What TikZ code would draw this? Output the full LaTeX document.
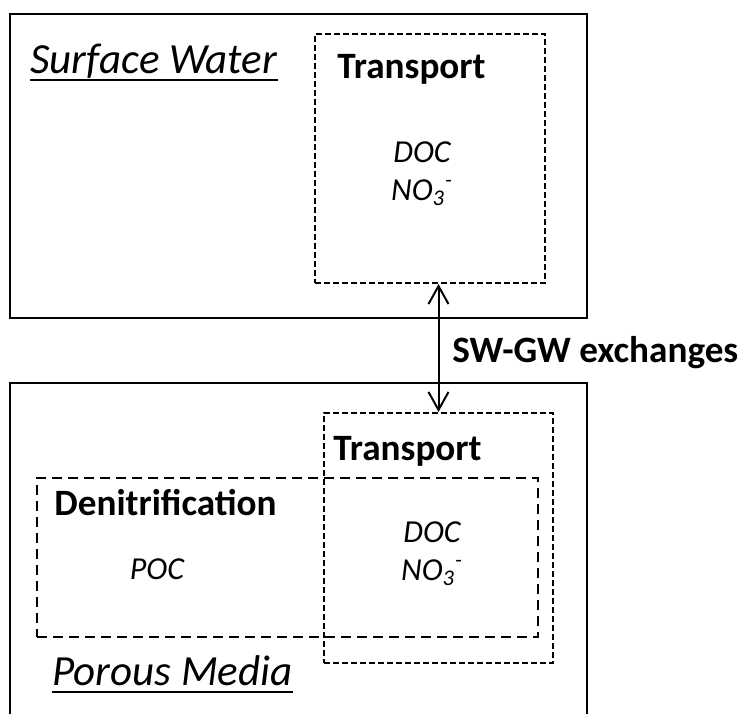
\documentclass[tikz,border=0pt]{standalone}
\usepackage{fontspec}
\setmainfont{Carlito}
\usetikzlibrary{arrows.meta}

\begin{document}
\begin{tikzpicture}[
    x=0.5pt, y=-0.5pt,
    >={Straight Barb[length=9pt,width=10pt]},
    zone/.style={draw=black, line width=1.25pt, inner sep=0pt},
    process/.style={draw=black, line width=1pt, dash pattern=on 3pt off 1.5pt, inner sep=0pt},
    heading/.style={font=\fontsize{18.6}{22}\selectfont\bfseries, inner sep=0pt},
    compartment/.style={font=\fontsize{21.5}{25}\selectfont\itshape, inner sep=0pt},
    species/.style={font=\fontsize{16}{19}\selectfont\itshape, inner sep=0pt}
]
\clip (0,0) rectangle (742,713);

% surface water
\node[zone, minimum width=288.5pt, minimum height=152pt] (sw) at (298.5,166) {};
\node[process, minimum width=115pt, minimum height=124.5pt] (swtr) at (430,158.5) {};
\node[compartment, anchor=base west] (swname) at (30,73) {Surface Water};
\draw[line width=1.2pt] ([yshift=-3.5pt]swname.base west) -- ([yshift=-3.5pt]swname.base east);
\node[heading, anchor=base west] (swtrname) at (337,78) {Transport};
\node[species, anchor=base] (swdoc) at (422,162) {DOC};
\node[species, anchor=base] (swno) at (422,200) {NO\textsubscript{3}\textsuperscript{-}};

% porous media
\node[zone, minimum width=288.5pt, minimum height=180pt] (gw) at (298.5,563) {};
\node[process, dash pattern=on 5pt off 3pt, minimum width=250.5pt, minimum height=79.5pt] (denit) at (287.5,557.5) {};
\node[process, minimum width=114.5pt, minimum height=125pt] (gwtr) at (438.5,538) {};
\node[heading, anchor=base west] (gwtrname) at (333,460) {Transport};
\node[heading, anchor=base west] (denitname) at (54,515) {Denitrification};
\node[species, anchor=base] (poc) at (157,579) {POC};
\node[species, anchor=base] (gwdoc) at (432,542) {DOC};
\node[species, anchor=base] (gwno) at (432,580) {NO\textsubscript{3}\textsuperscript{-}};
\node[compartment, anchor=base west] (gwname) at (52,685) {Porous Media};
\draw[line width=1.2pt] ([yshift=-3.5pt]gwname.base west) -- ([yshift=-3.5pt]gwname.base east);

% exchanges
\draw[<->, line width=1pt] (gwtr.north |- swtr.south) -- (gwtr.north);
\node[heading, anchor=base west] (exch) at (452,362) {SW-GW exchanges};
\end{tikzpicture}
\end{document}
